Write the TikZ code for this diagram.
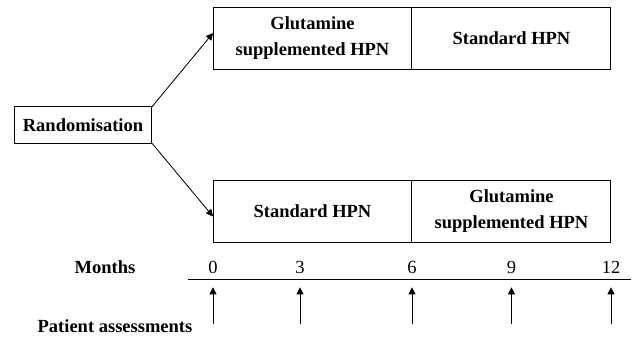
\documentclass[tikz,border=0pt]{standalone}
\usepackage{fontspec}
\setmainfont{Liberation Serif}
\usetikzlibrary{arrows.meta,positioning,calc}

\begin{document}
\begin{tikzpicture}[x=0.6pt,y=-0.6pt,
	cell/.style={draw,line width=0.6pt,minimum width=119.4pt,minimum height=37.2pt,
		inner sep=0pt,outer sep=0pt,align=center,font=\fontsize{11.1}{15.6}\selectfont\bfseries},
	rbox/.style={draw,line width=0.6pt,minimum width=82.8pt,minimum height=21.9pt,
		inner sep=0pt,outer sep=0pt,font=\fontsize{11.1}{13}\selectfont\bfseries},
	lbl/.style={font=\fontsize{11.1}{13}\selectfont\bfseries},
	num/.style={font=\fontsize{11.1}{13}\selectfont},
	tip/.style={-{Triangle[length=4.2pt,width=4.2pt]},line width=0.5pt}]
	\useasboundingbox (0,0) rectangle (637,337);
	
	% treatment periods, first arm
	\node[cell] (g1) at (312.5,38) {Glutamine\\supplemented HPN};
	\node[cell,right=0pt of g1] (s1) {Standard HPN};
	
	% treatment periods, second arm
	\node[cell] (s2) at (312.5,211.5) {Standard HPN};
	\node[cell,right=0pt of s2] (g2) {Glutamine\\supplemented HPN};
	
	% randomisation
	\node[rbox] (rand) at (83,125) {Randomisation};
	\draw[tip] (rand.north east) -- ($(g1.north west)!0.42!(g1.south west)$);
	\draw[tip] (rand.south east) -- ($(s2.north west)!0.58!(s2.south west)$);
	
	% time axis
	\node[lbl] (months) at (105,267) {Months};
	\coordinate (L) at (188,279.3);
	\coordinate (R) at (631,279.3);
	\draw[line width=0.6pt] (L) -- (R);
	
	% months and assessments
	\foreach \m/\x in {0/213,3/300,6/412,9/511.5,12/611}{
		\node[num] (m\m) at (\x,267) {\m};
		\coordinate (b\m) at (\x,324);
		\coordinate (t\m) at (\x,287.3);
		\draw[tip] (b\m) -- (t\m);
	}
	\node[lbl] (pa) at (115,326) {Patient assessments};
\end{tikzpicture}
\end{document}
